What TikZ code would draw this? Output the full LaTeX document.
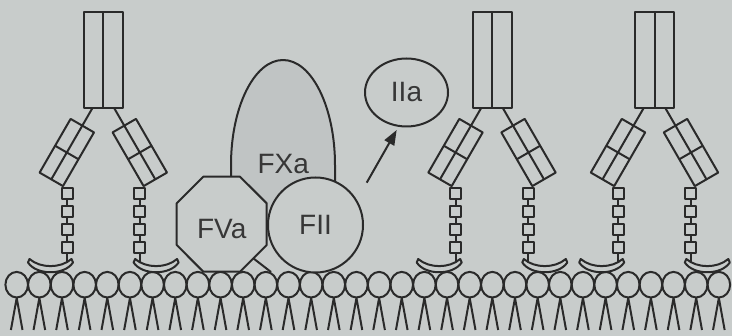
\documentclass[tikz,border=0pt]{standalone}
\usepackage{fontspec}
\setmainfont{Liberation Sans}
\usetikzlibrary{arrows.meta,shapes.geometric}
\definecolor{bg}{RGB}{200,204,203}
\definecolor{fxfill}{RGB}{192,196,196}
\definecolor{ink}{RGB}{42,42,42}
\definecolor{txt}{RGB}{55,55,55}

% Membrane-bound antibody: Fab/Fc blocks, hinge chains and binding cups
\tikzset{
  lbl/.style={font=\fontsize{28}{30}\selectfont, text=txt, inner sep=0pt},
  antibody/.pic={
    \draw (-19.5,12) rectangle (19.5,108);
    \draw (0,12) -- (0,108);
    \foreach \s/\a in {-1/-30, 1/30}{
      \begin{scope}[shift={(\s*36.5,152.5)}, rotate=\a]
        \draw (-13.5,-31) rectangle (13.5,31);
        \draw (0,-31) -- (0,31) (-13.5,0) -- (13.5,0);
        \draw (0,-31) -- (0,-51.5);
      \end{scope}
      \draw (\s*36.3,188) -- (\s*36.3,264);
      \foreach \yy in {193.5,211.5,229.5,247.5}
        \filldraw[fill=bg] (\s*36.3-5.5,\yy-5.5) rectangle ++(11,11);
      \filldraw[fill=bg]
        (\s*52.8-21,259) .. controls (\s*52.8-10,268.5) and (\s*52.8+10,268.5) .. (\s*52.8+21,259)
        -- (\s*52.8+22.5,262.5) .. controls (\s*52.8+14,275.5) and (\s*52.8-14,275.5) .. (\s*52.8-22.5,262.5)
        -- cycle;
    }
  }
}

\begin{document}
\begin{tikzpicture}[x=1pt, y=-1pt, line width=2pt, color=ink, line join=round]
  \fill[bg] (0,0) rectangle (732,336);
  \useasboundingbox (0,0) rectangle (732,336);

  % lipid bilayer: heads and tails
  \foreach \k in {0,...,31}{
    \pgfmathsetmacro\cx{16.7+22.65*\k}
    \draw (\cx,284.7) ellipse [x radius=11.3, y radius=12.8];
    \draw (\cx-5.8,330) -- (\cx,298) -- (\cx+5.8,330);
  }

  % antibodies
  \pic at (103.3,0) {antibody};
  \pic at (492,0) {antibody};
  \pic at (654.5,0) {antibody};

  % FXa body
  \fill[fxfill] (231,215) -- (231,165)
    arc[start angle=180, end angle=360, x radius=52, y radius=105]
    -- (335,215) -- cycle;
  \draw (231,177) -- (231,165)
    arc[start angle=180, end angle=360, x radius=52, y radius=105]
    -- (335,186);

  % FVa octagon
  \filldraw[fill=bg] (203.3,176.7) -- (240,176.7) -- (266.7,203.3) -- (266.7,245)
    -- (240,271.7) -- (203.3,271.7) -- (176.7,245) -- (176.7,203.3) -- cycle;
  \draw (253.3,258.3) -- (271,272);

  % FII and thrombin
  \node[circle, draw, fill=bg, minimum size=95pt, inner sep=0pt, lbl] (fii) at (315.5,225) {FII};
  \node[ellipse, draw, minimum width=83pt, minimum height=68pt, inner sep=0pt, lbl] (iia) at (406.5,92.5) {IIa};
  \coordinate (tail) at (366.7,182.7);
  \coordinate (tip) at (396.7,130);
  \draw[-{Triangle[length=15pt,width=11pt]}] (tail) -- (tip);

  \node[lbl] (fva) at (221.7,229) {FVa};
  \node[lbl] (fxa) at (283.3,164.5) {FXa};
\end{tikzpicture}
\end{document}
